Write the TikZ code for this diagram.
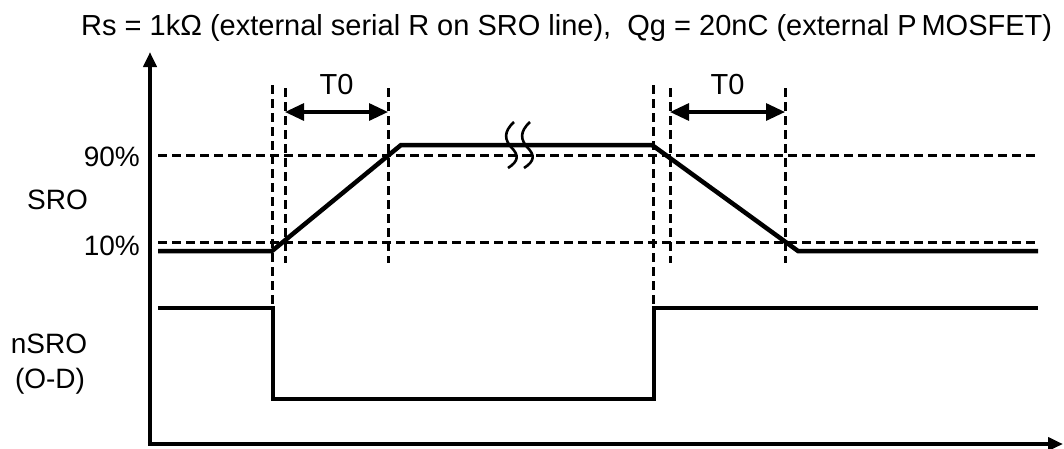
\documentclass[tikz,border=0pt]{standalone}
\usepackage{fontspec}
\setmainfont{Liberation Sans}
\usetikzlibrary{arrows.meta}
\begin{document}
\begin{tikzpicture}[x=1pt,y=-1pt,
  wave/.style={line width=4.5pt,line join=miter},
  axisline/.style={line width=4.5pt,-{Triangle[length=15pt,width=13pt]}},
  guide/.style={line width=3pt,dash pattern=on 9pt off 5pt},
  dim/.style={line width=3.2pt,{Triangle[length=19pt,width=17pt]}-{Triangle[length=19pt,width=17pt]}},
  lbl/.style={inner sep=0pt,font=\fontsize{28}{32}\selectfont},
  ttl/.style={inner sep=0pt,font=\fontsize{29}{33}\selectfont},
  brk/.style={line width=2.6pt}]
\useasboundingbox (0,0) rectangle (1064,448);
% title
\node[ttl,anchor=base west] (title) at (81,35) {Rs = 1kΩ (external serial R on SRO line),\ \ Qg = 20nC (external P\,MOSFET)};
% axes
\coordinate (O) at (150,444);
\coordinate (ytip) at (150,52);
\coordinate (xtip) at (1063,444);
\draw[axisline] (O) -- (ytip);
\draw[axisline] ([xshift=-2.25pt]O) -- (xtip);
% threshold lines
\coordinate (h90a) at (158,155); \coordinate (h90b) at (1038,155);
\coordinate (h10a) at (158,242); \coordinate (h10b) at (1038,242);
\draw[guide] (h90a) -- (h90b);
\draw[guide] (h10a) -- (h10b);
% vertical guides
\foreach \n/\x/\ya/\yb in {v1/272/85/308, v2/285/88/263, v3/388/88/263, v4/653/85/308, v5/670/88/263, v6/785/88/263}{
  \coordinate (\n a) at (\x,\ya); \coordinate (\n b) at (\x,\yb);
  \draw[guide] (\n a) -- (\n b);
}
% SRO waveform
\coordinate (s0) at (158,251); \coordinate (s1) at (272,251);
\coordinate (s2) at (401,145); \coordinate (s3) at (652,145);
\coordinate (s4) at (798,251); \coordinate (s5) at (1038,251);
\draw[wave] (s0) -- (s1) -- (s2) -- (s3) -- (s4) -- (s5);
% nSRO waveform
\coordinate (n0) at (158,308); \coordinate (n1) at (273,308);
\coordinate (n2) at (273,399); \coordinate (n3) at (654,399);
\coordinate (n4) at (654,308); \coordinate (n5) at (1038,308);
\draw[wave] (n0) -- (n1) -- (n2) -- (n3) -- (n4) -- (n5);
% break marks
\draw[brk] (514,122) .. controls (503,132) and (505,140) .. (511,147) .. controls (519,155) and (519,161) .. (508,168);
\draw[brk] (530,122) .. controls (519,132) and (521,140) .. (527,147) .. controls (535,155) and (535,161) .. (524,168);
% T0 dimensions
\coordinate (d1a) at (285,112); \coordinate (d1b) at (388,112);
\coordinate (d2a) at (670,112); \coordinate (d2b) at (785,112);
\draw[dim] (d1a) -- (d1b);
\draw[dim] (d2a) -- (d2b);
\node[ttl,anchor=base] (t0a) at (336.5,94) {T0};
\node[ttl,anchor=base] (t0b) at (727.5,94) {T0};
% labels
\node[lbl,anchor=base east] (p90) at (140,166) {90\%};
\node[lbl,anchor=base east] (p10) at (140,255) {10\%};
\node[lbl,anchor=base west] (sro) at (27,209) {SRO};
\node[lbl,anchor=base] (nsro) at (49,353) {nSRO};
\node[lbl,anchor=base] (od) at (50,388) {(O-D)};
\end{tikzpicture}
\end{document}
